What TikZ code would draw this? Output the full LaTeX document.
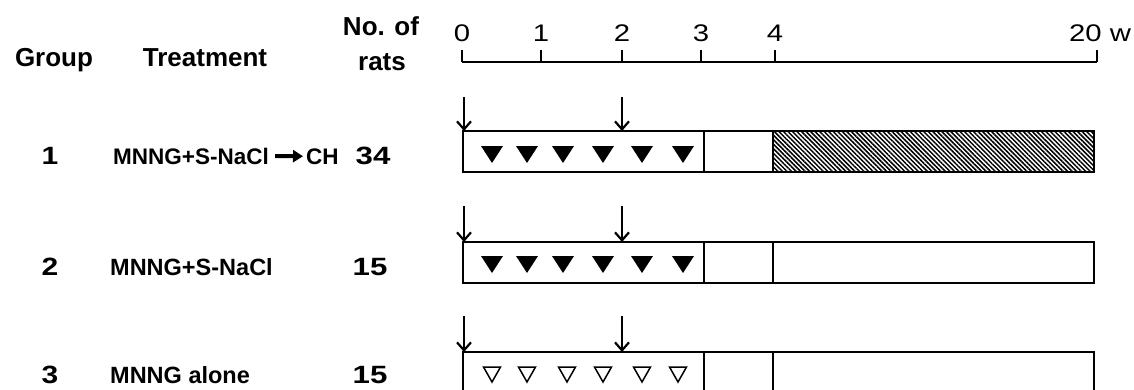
\documentclass[tikz,border=0pt]{standalone}
\usepackage{fontspec}
\setmainfont{Liberation Sans}
\usetikzlibrary{arrows.meta,patterns.meta}
\newcommand\wideby[2]{\scalebox{#1}[1]{#2}}
\begin{document}
\begin{tikzpicture}[x=1pt,y=-1pt,
  hdr/.style={font=\fontsize{26}{28}\selectfont\bfseries, inner sep=0pt, anchor=base},
  lbl/.style={font=\fontsize{23.5}{25}\selectfont\bfseries, inner sep=0pt, anchor=base west},
  cnt/.style={font=\fontsize{25}{27}\selectfont\bfseries, inner sep=0pt, anchor=base},
  wk/.style={font=\fontsize{24}{26}\selectfont, inner sep=0pt, anchor=base},
  frame/.style={draw, line width=2.1pt},
  dose/.style={line width=2.2pt, -{Straight Barb[length=8pt,width=14pt,line width=2.2pt]}},
  axis/.style={line width=1.6pt},
  hatch/.style={pattern={Lines[angle=-45,distance=3.2pt,line width=1.5pt]}},
  otri/.style={draw, line width=1.5pt, line join=miter}
]
\useasboundingbox (0,0) rectangle (1134,389);
\clip (0,0) rectangle (1134,389);

% headers
\node[hdr] (hgroup) at (54,66) {Group};
\node[hdr] (htreat) at (205,66) {Treatment};
\node[hdr] (hno) at (381,35) {No. of};
\node[hdr] (hrats) at (382,70) {rats};

% time scale
\draw[axis] (462,62) -- (1097,62);
\foreach \x/\l in {462/0,541/1,622/2,701/3,775/4}{
  \draw[axis] (\x,50) -- (\x,62);
  \node[wk] (w\l) at (\x,41) {\wideby{1.22}{\l}};
}
\draw[axis] (1097,50) -- (1097,62);
\node[wk, anchor=base west] (w20) at (1069,41) {\wideby{1.22}{20 w}};

% ---------- row 1 ----------
\node[cnt] (g1) at (50,164) {\wideby{1.2}{1}};
\node[lbl, font=\fontsize{22.5}{24}\selectfont\bfseries] (t1a) at (113,164) {MNNG+S-NaCl};
\node[lbl, font=\fontsize{22.5}{24}\selectfont\bfseries] (t1b) at (306,164) {CH};
\draw[line width=4pt, -{Triangle[length=10pt,width=12pt]}, shorten <=6pt, shorten >=3pt] (t1a.east) -- (t1b.west);
\node[cnt] (n1) at (373,164) {\wideby{1.25}{34}};
\fill[hatch] (773,131) rectangle (1094,172);
\draw[frame] (463,131) rectangle (1094,172);
\draw[frame] (704,131) -- (704,172) (773,131) -- (773,172);
\foreach \c in {492,527,563,603,642,683}
  \fill (\c-11,146) -- (\c+11,146) -- (\c,163) -- cycle;
\coordinate (a1s) at (464,97); \coordinate (a1e) at (464,131);
\coordinate (b1s) at (622,97); \coordinate (b1e) at (622,131);
\draw[dose] (a1s) -- (a1e);
\draw[dose] (b1s) -- (b1e);

% ---------- row 2 ----------
\node[cnt] (g2) at (50,275) {\wideby{1.2}{2}};
\node[lbl] (t2) at (110,275) {MNNG+S-NaCl};
\node[cnt] (n2) at (370,275) {\wideby{1.25}{15}};
\draw[frame] (463,242) rectangle (1094,283);
\draw[frame] (704,242) -- (704,283) (773,242) -- (773,283);
\foreach \c in {492,527,563,603,642,683}
  \fill (\c-11,256) -- (\c+11,256) -- (\c,273) -- cycle;
\coordinate (a2s) at (464,206); \coordinate (a2e) at (464,242);
\coordinate (b2s) at (622,206); \coordinate (b2e) at (622,242);
\draw[dose] (a2s) -- (a2e);
\draw[dose] (b2s) -- (b2e);

% ---------- row 3 ----------
\node[cnt] (g3) at (50,383) {\wideby{1.2}{3}};
\node[lbl] (t3) at (110,383) {MNNG alone};
\node[cnt] (n3) at (370,383) {\wideby{1.25}{15}};
\draw[frame] (463,352) rectangle (1094,395);
\draw[frame] (704,352) -- (704,395) (773,352) -- (773,395);
\foreach \c in {492,527,567,603,642,678}
  \draw[otri] (\c-8.5,367) -- (\c+8.5,367) -- (\c,382) -- cycle;
\coordinate (a3s) at (464,316); \coordinate (a3e) at (464,352);
\coordinate (b3s) at (622,316); \coordinate (b3e) at (622,352);
\draw[dose] (a3s) -- (a3e);
\draw[dose] (b3s) -- (b3e);
\end{tikzpicture}
\end{document}
